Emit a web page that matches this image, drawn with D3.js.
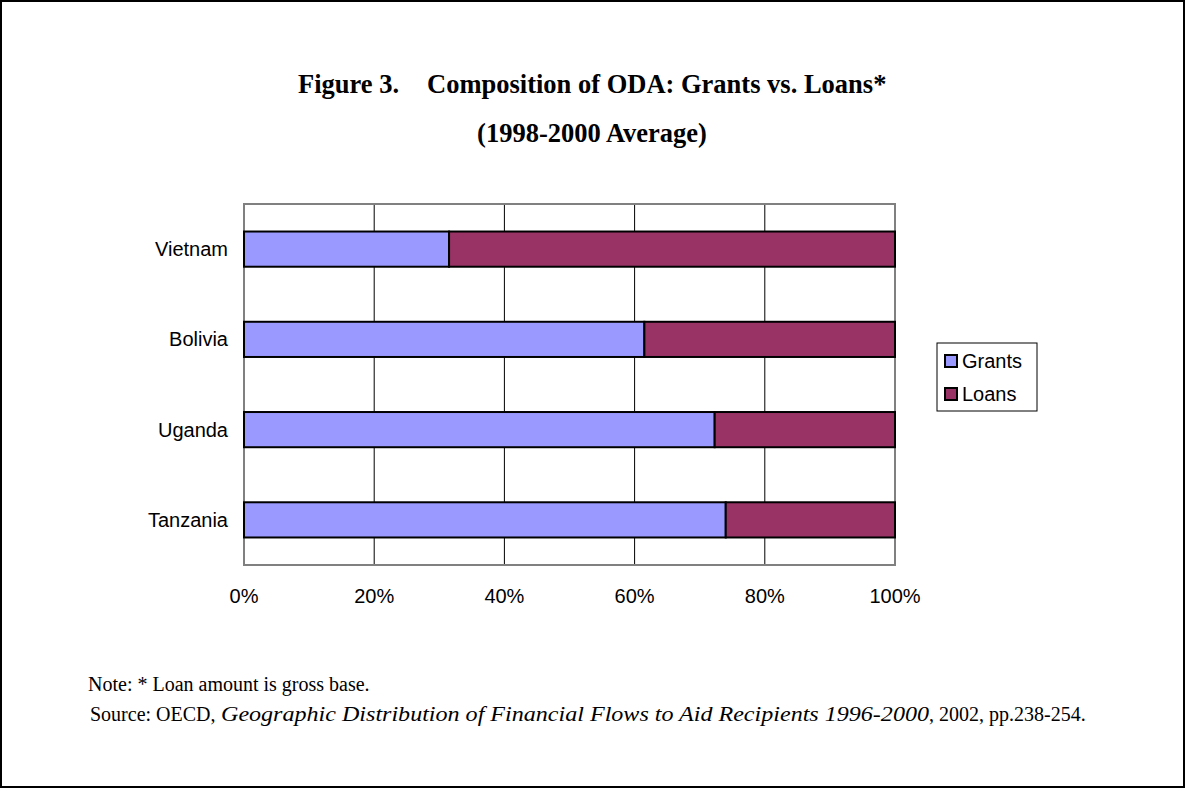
<!DOCTYPE html>
<html>
<head>
  <meta charset="UTF-8">
  <title>Composition of ODA: Grants vs. Loans</title>
  <style>
    body { margin: 0; background: #fff; }
    svg { display: block; }
  </style>
</head>
<body>
<svg></svg>
<script src="https://d3js.org/d3.v7.min.js"></script>
<script>
    // chart data
    var countries = ["Vietnam", "Bolivia", "Uganda", "Tanzania"];
    var grants = [31.5, 61.5, 72.3, 74.0];
    var loans = [68.5, 38.5, 27.7, 26.0];
    var seriesNames = ["Grants", "Loans"];
    var seriesColors = ["#9999FF", "#993366"];
    var tickValues = [0, 20, 40, 60, 80, 100];

    let width = 1185, height = 789;
    let svg = d3.select("svg").attr("width", width).attr("height", height);

    // outer frame
    svg.append("rect")
        .attr("x", 1).attr("y", 1)
        .attr("width", width - 2).attr("height", height - 3)
        .attr("fill", "none")
        .attr("stroke", "#000")
        .attr("stroke-width", 2);

    // title
    var serif = "'Liberation Serif', 'Times New Roman', serif";
    svg.append("text")
        .attr("x", 298).attr("y", 93)
        .style("font-family", serif).style("font-weight", "bold").style("font-size", "26.5px")
        .text("Figure 3.");
    svg.append("text")
        .attr("x", 427).attr("y", 93)
        .style("font-family", serif).style("font-weight", "bold").style("font-size", "26.5px")
        .text("Composition of ODA: Grants vs. Loans*");
    svg.append("text")
        .attr("x", 592).attr("y", 142)
        .attr("text-anchor", "middle")
        .style("font-family", serif).style("font-weight", "bold").style("font-size", "26.5px")
        .text("(1998-2000 Average)");

    // plot area
    var plotL = 244, plotR = 895, plotT = 204, plotB = 565;

    var x = d3.scaleLinear().domain([0, 100]).range([plotL, plotR]);
    var y = d3.scaleBand().domain(countries).range([plotT, plotB])
        .paddingInner(0.61).paddingOuter(0.305);

    // gridlines
    svg.append("g")
        .selectAll("line")
        .data(tickValues.slice(1, -1))
        .enter().append("line")
        .attr("x1", d => x(d)).attr("x2", d => x(d))
        .attr("y1", plotT).attr("y2", plotB)
        .attr("stroke", "#000")
        .attr("stroke-width", 1);

    // plot border
    svg.append("rect")
        .attr("x", plotL).attr("y", plotT)
        .attr("width", plotR - plotL).attr("height", plotB - plotT)
        .attr("fill", "none")
        .attr("stroke", "#808080")
        .attr("stroke-width", 2);

    // stacked bars
    var rows = countries.map((c, i) => ({ country: c, values: [grants[i], loans[i]] }));
    var bars = svg.append("g").selectAll("g")
        .data(rows)
        .enter().append("g");

    bars.selectAll("rect")
        .data(d => {
            var start = 0;
            return d.values.map((v, j) => {
                var seg = { country: d.country, x0: start, x1: start + v, j: j };
                start += v;
                return seg;
            });
        })
        .enter().append("rect")
        .attr("x", d => x(d.x0))
        .attr("y", d => y(d.country))
        .attr("width", d => x(d.x1) - x(d.x0))
        .attr("height", y.bandwidth())
        .attr("fill", d => seriesColors[d.j])
        .attr("stroke", "#000")
        .attr("stroke-width", 2);

    // category labels
    var sans = "'Liberation Sans', Arial, sans-serif";
    svg.append("g")
        .selectAll("text")
        .data(countries)
        .enter().append("text")
        .attr("x", 228)
        .attr("y", d => y(d) + y.bandwidth() / 2 + 7)
        .attr("text-anchor", "end")
        .style("font-family", sans).style("font-size", "20px")
        .text(d => d);

    // value axis labels
    svg.append("g")
        .selectAll("text")
        .data(tickValues)
        .enter().append("text")
        .attr("x", d => x(d))
        .attr("y", 603)
        .attr("text-anchor", "middle")
        .style("font-family", sans).style("font-size", "20px")
        .text(d => d + "%");

    // legend
    var legend = svg.append("g");
    legend.append("rect")
        .attr("x", 937).attr("y", 343)
        .attr("width", 100).attr("height", 68)
        .attr("fill", "#fff")
        .attr("stroke", "#000")
        .attr("stroke-width", 1);

    var items = legend.selectAll("g.item")
        .data(seriesNames)
        .enter().append("g")
        .attr("class", "item");

    items.append("rect")
        .attr("x", 945)
        .attr("y", (d, i) => 355 + i * 33)
        .attr("width", 12).attr("height", 12)
        .attr("fill", (d, i) => seriesColors[i])
        .attr("stroke", "#000")
        .attr("stroke-width", 2);

    items.append("text")
        .attr("x", 962)
        .attr("y", (d, i) => 368 + i * 33)
        .style("font-family", sans).style("font-size", "20px")
        .text(d => d);

    // notes
    svg.append("text")
        .attr("x", 88).attr("y", 691)
        .style("font-family", serif).style("font-size", "20px")
        .text("Note: * Loan amount is gross base.");

    svg.append("text")
        .attr("x", 90).attr("y", 721)
        .style("font-family", serif).style("font-size", "20px")
        .text("Source: OECD,");
    svg.append("text")
        .attr("x", 221).attr("y", 721)
        .attr("textLength", 708)
        .attr("lengthAdjust", "spacingAndGlyphs")
        .style("font-family", serif).style("font-size", "20px").style("font-style", "italic")
        .text("Geographic Distribution of Financial Flows to Aid Recipients 1996-2000");
    svg.append("text")
        .attr("x", 929).attr("y", 721)
        .style("font-family", serif).style("font-size", "20px")
        .text(", 2002, pp.238-254.");
</script>
</body>
</html>
